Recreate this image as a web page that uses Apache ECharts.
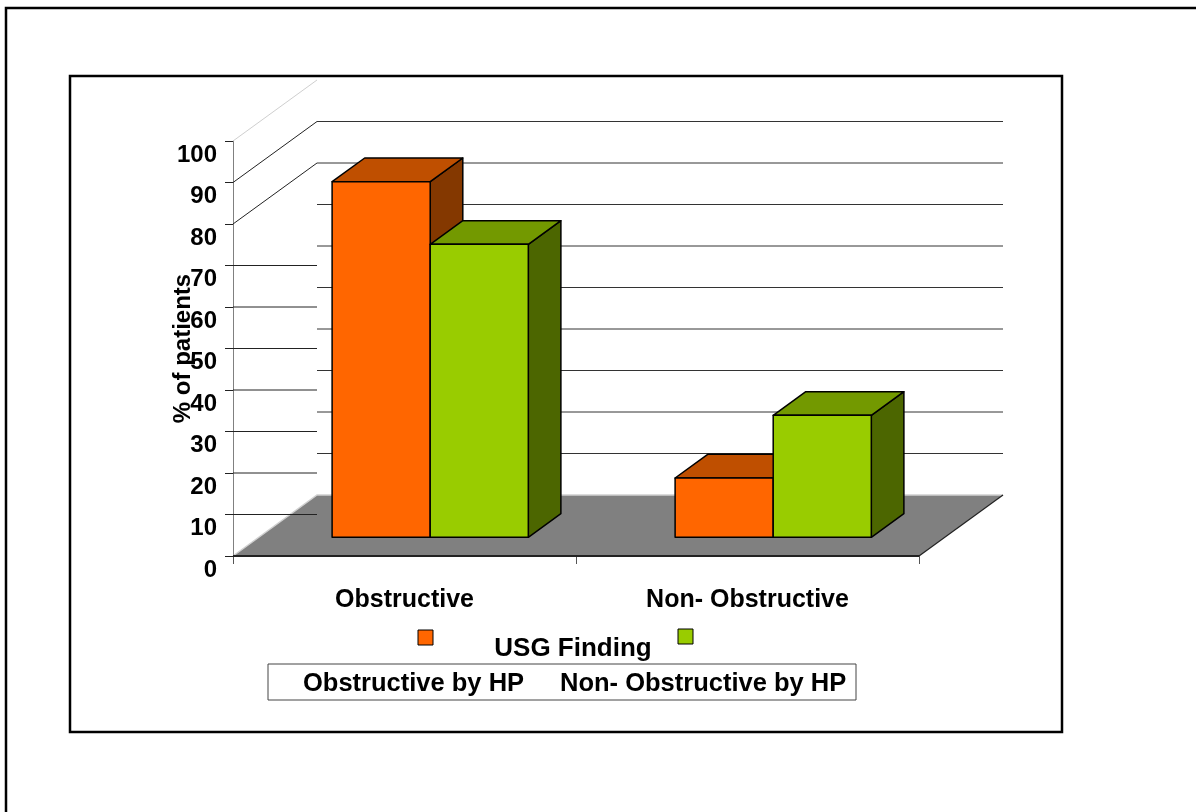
<!DOCTYPE html>
<html>
<head>
<meta charset="utf-8">
<script src="https://cdn.jsdelivr.net/npm/echarts@6/dist/echarts.min.js"></script>
<style>
  html, body { margin: 0; padding: 0; background: #ffffff; }
  #chart { width: 1202px; height: 812px; }
</style>
</head>
<body>
<div id="chart"></div>
<script>
// ---- data ----
const categories = ['Obstructive', 'Non- Obstructive'];
const seriesNames = ['Obstructive by HP', 'Non- Obstructive by HP'];
const obstructiveByHP = [85.7, 14.3];
const nonObstructiveByHP = [70.6, 29.4];
const yTicks = [0, 10, 20, 30, 40, 50, 60, 70, 80, 90, 100];
const legendTitle = 'USG Finding';
const axisTitle = '% of patients';

// ---- pseudo-3D geometry (pixels / fractions of the depth) ----
const DEPTH_X = 84;          // horizontal shift from front plane to back wall
const DEPTH_Y = 61;          // vertical shift from front plane to back wall
const BAR_FRONT = 0.306;     // depth of the bars' front faces
const BAR_DEPTH = 0.388;     // thickness of the bars along depth
const BAR_WIDTH_RATIO = 0.286;
const FONT = "'Liberation Sans', Arial, sans-serif";

const faces = [
  { front: '#FF6600', top: '#BF4F00', side: '#843800' },
  { front: '#99CC00', top: '#739900', side: '#4C6600' }
];

// box bar: side = -1 puts it left of the category centre, +1 right of it
function barRenderer(side, face) {
  return function (params, api) {
    const cat = api.value(0);
    const val = api.value(1);
    const base = api.coord([cat, 0]);
    const top = api.coord([cat, val]);
    const band = api.size([1, 0])[0];
    const w = band * BAR_WIDTH_RATIO;
    const sx = BAR_FRONT * DEPTH_X, sy = BAR_FRONT * DEPTH_Y;
    const bx = BAR_DEPTH * DEPTH_X, by = BAR_DEPTH * DEPTH_Y;
    const xl = base[0] + sx + (side < 0 ? -w : 0);
    const xr = xl + w;
    const yb = base[1] - sy;
    const yt = top[1] - sy;
    const edge = { stroke: '#000', lineWidth: 1.5, lineJoin: 'round' };
    return {
      type: 'group',
      children: [
        { type: 'polygon', shape: { points: [[xr, yb], [xr + bx, yb - by], [xr + bx, yt - by], [xr, yt]] },
          style: Object.assign({ fill: face.side }, edge) },
        { type: 'polygon', shape: { points: [[xl, yt], [xr, yt], [xr + bx, yt - by], [xl + bx, yt - by]] },
          style: Object.assign({ fill: face.top }, edge) },
        { type: 'rect', shape: { x: xl, y: yt, width: w, height: yb - yt },
          style: Object.assign({ fill: face.front }, edge) }
      ]
    };
  };
}

// grey floor plane under the bars
function floorRenderer(params, api) {
  const cs = params.coordSys;
  const y0 = api.coord([0, 0])[1];
  const x0 = cs.x, x1 = cs.x + cs.width;
  return {
    type: 'group',
    children: [
      { type: 'polygon', shape: { points: [[x0, y0], [x1, y0], [x1 + DEPTH_X, y0 - DEPTH_Y], [x0 + DEPTH_X, y0 - DEPTH_Y]] },
        style: { fill: '#808080' } },
      { type: 'polyline', shape: { points: [[x0, y0], [x0 + DEPTH_X, y0 - DEPTH_Y], [x1 + DEPTH_X, y0 - DEPTH_Y]] },
        style: { stroke: '#d0d0d0', lineWidth: 1.5, fill: null } },
      { type: 'line', shape: { x1: x1, y1: y0, x2: x1 + DEPTH_X, y2: y0 - DEPTH_Y },
        style: { stroke: '#222', lineWidth: 1.2 } },
      { type: 'line', shape: { x1: x0, y1: y0, x2: x1, y2: y0 },
        style: { stroke: '#222', lineWidth: 2 } }
    ]
  };
}

// side-wall and back-wall gridlines, one item per tick value
function wallRenderer(params, api) {
  const cs = params.coordSys;
  const v = api.value(1);
  const y = api.coord([0, v])[1];
  const x0 = cs.x, x1 = cs.x + cs.width;
  const children = [];
  if (v <= 70) {
    children.push({ type: 'line', shape: { x1: x0, y1: y, x2: x0 + DEPTH_X, y2: y },
      style: { stroke: '#222', lineWidth: 1 } });
  } else if (v < 100) {
    children.push({ type: 'line', shape: { x1: x0, y1: y, x2: x0 + DEPTH_X, y2: y - DEPTH_Y },
      style: { stroke: '#222', lineWidth: 1 } });
  } else {
    children.push({ type: 'line', shape: { x1: x0, y1: y, x2: x0 + DEPTH_X, y2: y - DEPTH_Y },
      style: { stroke: '#cfcfcf', lineWidth: 1 } });
  }
  if (v > 0 && v < 100) {
    children.push({ type: 'line', shape: { x1: x0 + DEPTH_X, y1: y - DEPTH_Y, x2: x1 + DEPTH_X, y2: y - DEPTH_Y },
      style: { stroke: '#333', lineWidth: 1 } });
  }
  return { type: 'group', children: children };
}

const chart = echarts.init(document.getElementById('chart'), null, { renderer: 'canvas' });

const textBold = { fontFamily: FONT, fontWeight: 'bold', color: '#000' };

chart.setOption({
  backgroundColor: '#ffffff',
  animation: false,
  grid: { left: 233, top: 141, width: 686, height: 415, containLabel: false },
  xAxis: {
    type: 'category',
    data: categories,
    boundaryGap: true,
    axisLine: { show: false },
    axisTick: { show: true, length: 8, lineStyle: { color: '#555', width: 1 } },
    axisLabel: Object.assign({ fontSize: 25, margin: 44, verticalAlign: 'middle' }, textBold),
    splitLine: { show: false }
  },
  yAxis: {
    type: 'value',
    min: 0,
    max: 100,
    interval: 10,
    name: axisTitle,
    nameLocation: 'middle',
    nameRotate: 90,
    nameGap: 38,
    nameMoveOverlap: false,
    nameTextStyle: Object.assign({ fontSize: 24 }, textBold),
    axisLine: { show: true, lineStyle: { color: '#808080', width: 1 } },
    axisTick: { show: true, length: 8, lineStyle: { color: '#222', width: 1 } },
    axisLabel: Object.assign({ fontSize: 24, margin: 16, verticalAlign: 'top', lineHeight: 28 }, textBold),
    splitLine: { show: false }
  },
  series: [
    { type: 'custom', name: 'floor', z: 1, silent: true, data: [[0, 0]], renderItem: floorRenderer },
    { type: 'custom', name: 'walls', z: 2, silent: true, data: yTicks.map(v => [0, v]), renderItem: wallRenderer },
    { type: 'custom', name: seriesNames[0], z: 3, data: obstructiveByHP.map((v, i) => [i, v]),
      renderItem: barRenderer(-1, faces[0]) },
    { type: 'custom', name: seriesNames[1], z: 4, data: nonObstructiveByHP.map((v, i) => [i, v]),
      renderItem: barRenderer(1, faces[1]) }
  ],
  graphic: [
    // page frames
    { type: 'polyline', shape: { points: [[6, 812], [6, 8], [1196, 8]] },
      style: { stroke: '#000', lineWidth: 2.5, fill: null } },
    { type: 'rect', shape: { x: 70, y: 76, width: 992, height: 656 },
      style: { stroke: '#000', lineWidth: 2.5, fill: null } },
    // legend
    { type: 'rect', shape: { x: 418, y: 630, width: 15, height: 15 },
      style: { fill: faces[0].front, stroke: '#000', lineWidth: 1 } },
    { type: 'rect', shape: { x: 678, y: 629, width: 15, height: 15 },
      style: { fill: faces[1].front, stroke: '#000', lineWidth: 1 } },
    { type: 'text', x: 573, y: 649,
      style: { text: legendTitle, font: "bold 26px " + FONT, fill: '#000', align: 'center', verticalAlign: 'middle' } },
    { type: 'rect', shape: { x: 268, y: 664, width: 588, height: 36 },
      style: { stroke: '#444', lineWidth: 1, fill: null } },
    { type: 'text', x: 303, y: 684,
      style: { text: seriesNames[0], font: "bold 25.5px " + FONT, fill: '#000', align: 'left', verticalAlign: 'middle' } },
    { type: 'text', x: 560, y: 684,
      style: { text: seriesNames[1], font: "bold 25.5px " + FONT, fill: '#000', align: 'left', verticalAlign: 'middle' } }
  ]
});
</script>
</body>
</html>
